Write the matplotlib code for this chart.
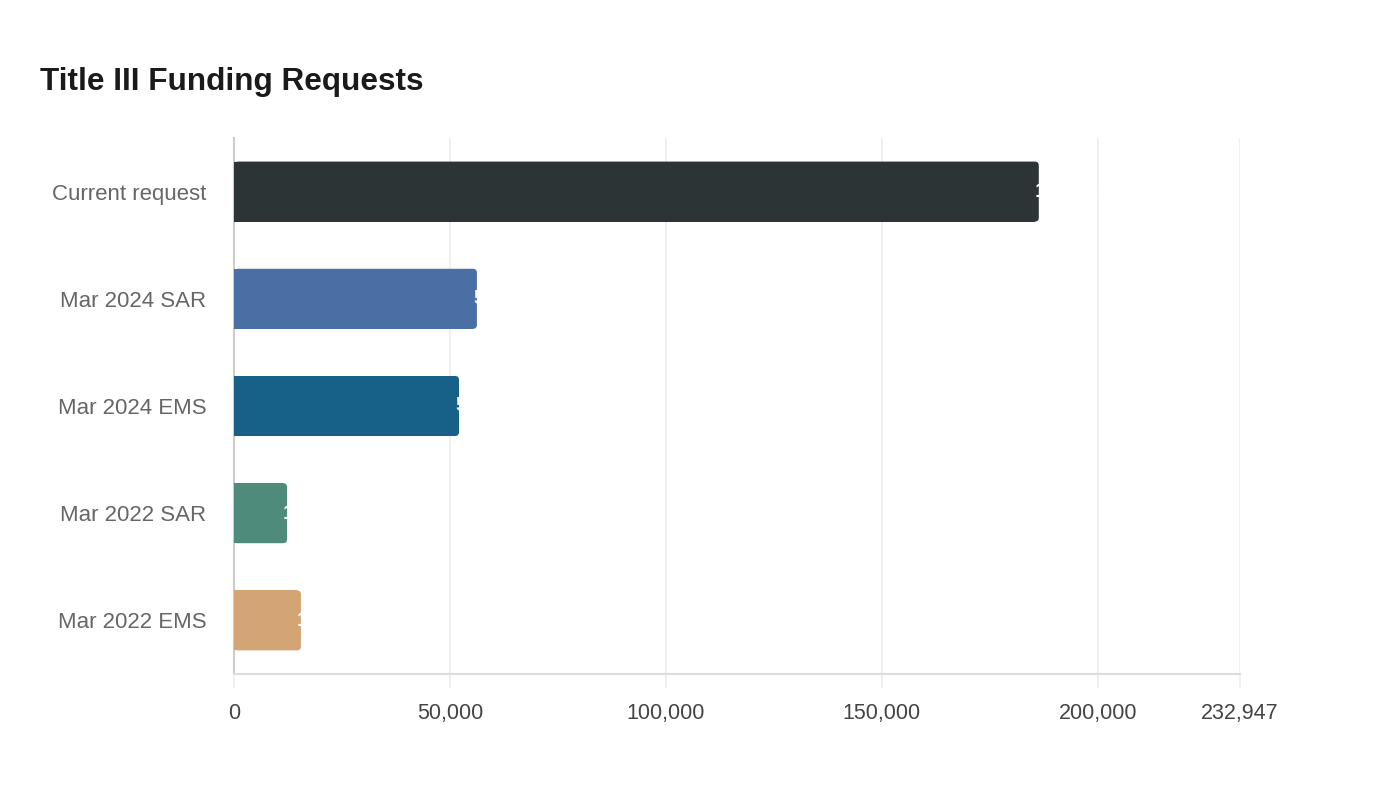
import matplotlib
matplotlib.use('Agg')
import matplotlib.pyplot as plt
from matplotlib.patches import FancyBboxPatch
from matplotlib.ticker import FuncFormatter

plt.rcParams['font.family'] = ['Liberation Sans', 'DejaVu Sans']

categories = ['Current request', 'Mar 2024 SAR', 'Mar 2024 EMS', 'Mar 2022 SAR', 'Mar 2022 EMS']
values = [186358, 56250, 52100, 12300, 15500]
colors = ['#2d3436', '#4a6fa5', '#176087', '#4e8b7a', '#d4a574']
x_max = 232947
x_ticks = [0, 50000, 100000, 150000, 200000, x_max]

fig = plt.figure(figsize=(14, 8), dpi=100)
ax = fig.add_axes([234 / 1400, 1 - 674 / 800, (1240 - 234) / 1400, (674 - 138) / 800])

bar_h = 0.56
px_x = x_max / (1240 - 234)      # data units per pixel in x
px_y = 5.0 / (674 - 138)         # data units per pixel in y
r = 4 * px_x
for i, (v, c) in enumerate(zip(values, colors)):
    ax.barh(i, v - r, height=bar_h, color=c, zorder=3)
    box = FancyBboxPatch((0, i - bar_h / 2), v, bar_h,
                         boxstyle='round,pad=0,rounding_size=%f' % r,
                         mutation_aspect=px_y / px_x,
                         facecolor=c, edgecolor='none', zorder=3)
    ax.add_patch(box)
    ax.text(v - 4 * px_x, i, f'{v:,}', color='white', fontsize=15,
            fontweight='bold', ha='left', va='center', zorder=4)

ax.set_xlim(0, x_max)
ax.set_ylim(4.5, -0.5)
ax.set_yticks(range(len(categories)))
ax.set_yticklabels(categories)
ax.set_xticks(x_ticks)
ax.xaxis.set_major_formatter(FuncFormatter(lambda x, p: f'{int(round(x)):,}'))

ax.grid(axis='x', color='#eeeeee', linewidth=1.2, zorder=0)
ax.set_axisbelow(True)
for s in ['top', 'right']:
    ax.spines[s].set_visible(False)
ax.spines['left'].set_color('#cccccc')
ax.spines['left'].set_linewidth(1.5)
ax.spines['bottom'].set_color('#dddddd')
ax.spines['bottom'].set_linewidth(1.5)

ax.tick_params(axis='x', length=10, width=1.2, color='#eeeeee', pad=11,
               labelsize=15.5, labelcolor='#444444')
ax.tick_params(axis='y', length=0, pad=20, labelsize=16, labelcolor='#666666')

fig.text(40 / 1400, 1 - 82 / 800, 'Title III Funding Requests', fontsize=22.7,
         fontweight='bold', color='#1a1a1a', ha='left', va='center')

fig.savefig('out.png', dpi=100, facecolor='white')
